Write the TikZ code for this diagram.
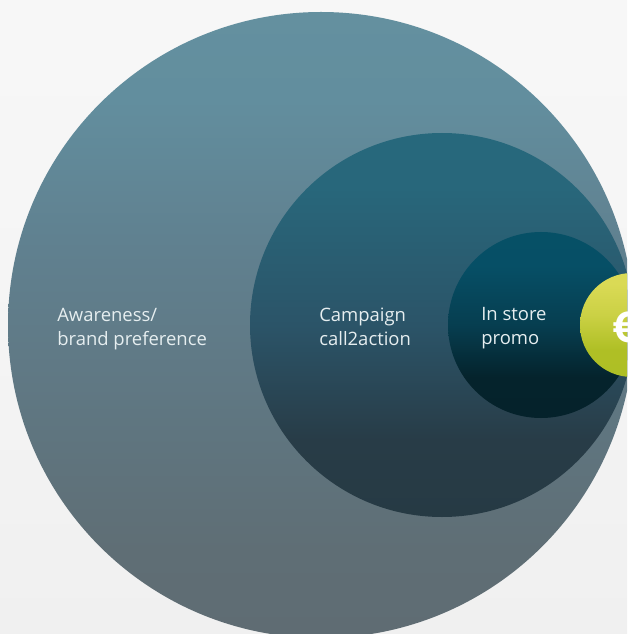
\documentclass[tikz,border=0pt]{standalone}
\usepackage{fontspec}
\setmainfont{Open Sans}
\definecolor{labelwhite}{HTML}{E6EEF0}
\definecolor{bgA}{HTML}{F0F0F0}\definecolor{bgB}{HTML}{F6F6F6}\definecolor{bgC}{HTML}{F7F7F7}
\definecolor{bigA}{HTML}{5F6C73}\definecolor{bigB}{HTML}{5F6E75}\definecolor{bigC}{HTML}{60808F}\definecolor{bigD}{HTML}{628E9E}\definecolor{bigE}{HTML}{64909F}
\definecolor{midA}{HTML}{263A44}\definecolor{midB}{HTML}{283C47}\definecolor{midC}{HTML}{2B5468}\definecolor{midD}{HTML}{28677B}\definecolor{midE}{HTML}{27687C}
\definecolor{smA}{HTML}{05222B}\definecolor{smB}{HTML}{05232C}\definecolor{smC}{HTML}{063E50}\definecolor{smD}{HTML}{064F66}\definecolor{smE}{HTML}{065066}
\definecolor{limeA}{HTML}{AEBF25}\definecolor{limeB}{HTML}{AFBF25}\definecolor{limeC}{HTML}{CBD145}\definecolor{limeD}{HTML}{DADA55}
\pgfdeclareverticalshading{bgshade}{100bp}{color(0bp)=(bgA); color(25bp)=(bgA); color(60bp)=(bgB); color(75bp)=(bgC); color(100bp)=(bgC)}
\pgfdeclareverticalshading{bigshade}{100bp}{color(0bp)=(bigA); color(25bp)=(bigA); color(32bp)=(bigB); color(56bp)=(bigC); color(68bp)=(bigD); color(75bp)=(bigE); color(100bp)=(bigE)}
\pgfdeclareverticalshading{midshade}{100bp}{color(0bp)=(midA); color(25bp)=(midA); color(35bp)=(midB); color(50bp)=(midC); color(68bp)=(midD); color(75bp)=(midE); color(100bp)=(midE)}
\pgfdeclareverticalshading{smallshade}{100bp}{color(0bp)=(smA); color(25bp)=(smA); color(36bp)=(smB); color(50bp)=(smC); color(66bp)=(smD); color(75bp)=(smE); color(100bp)=(smE)}
\pgfdeclareverticalshading{limeshade}{100bp}{color(0bp)=(limeA); color(25bp)=(limeA); color(38bp)=(limeB); color(55bp)=(limeC); color(70bp)=(limeD); color(75bp)=(limeD); color(100bp)=(limeD)}
\tikzset{
  circlelabel/.style={text=labelwhite,font=\fontsize{13.85}{18}\selectfont,align=left,anchor=west,inner sep=0pt},
  eurolabel/.style={text=white,font=\fontsize{32}{32}\selectfont\bfseries,inner sep=0pt}
}
\begin{document}
\begin{tikzpicture}[x=0.75pt,y=-0.75pt]
\useasboundingbox (0,0) rectangle (627,634);
\clip (0,0) rectangle (627,634);
\shade[shading=bgshade] (0,0) rectangle (627,634);
\shade[shading=bigshade] (321,325) circle[radius=313];
\shade[shading=midshade] (442,325) circle[radius=192];
\shade[shading=smallshade] (541,325) circle[radius=93];
\shade[shading=limeshade] (632,325) circle[radius=52];
\node[circlelabel] (awareness) at (57,329) {Awareness/\\brand preference};
\node[circlelabel] (campaign) at (319,326.5) {Campaign\\call2action};
\node[circlelabel] (promo) at (481,328) {In store\\promo};
\node[eurolabel] (euro) at (625,327) {€};
\end{tikzpicture}
\end{document}
